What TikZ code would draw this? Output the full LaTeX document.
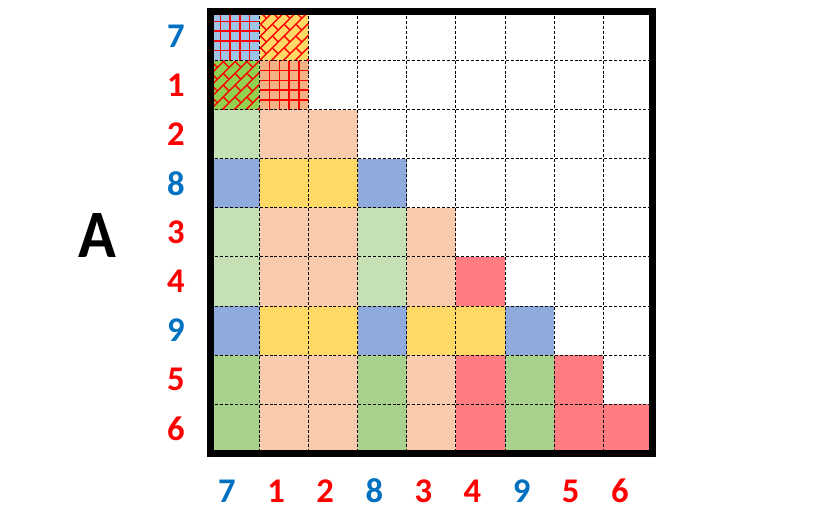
\documentclass[tikz,border=0pt]{standalone}
\usepackage{fontspec}
\setmainfont{Carlito}
\usetikzlibrary{positioning}
\usepackage{xcolor}

\definecolor{lblblue}{HTML}{0070C0}
\definecolor{lblred}{HTML}{FF0000}
\definecolor{cblue}{HTML}{8FAADC}
\definecolor{cyellow}{HTML}{FFD966}
\definecolor{peach}{HTML}{F8CBAD}
\definecolor{lgreen}{HTML}{C5E0B4}
\definecolor{cgreen}{HTML}{A9D18E}
\definecolor{cred}{HTML}{FF7C80}
\definecolor{pblue}{HTML}{9DC3E6}
\definecolor{psalmon}{HTML}{F4B183}
\definecolor{pgreen}{HTML}{92D050}
\definecolor{pyellow}{HTML}{FFD966}

\tikzset{
  lbl/.style={font=\fontsize{19.7}{24}\selectfont\bfseries, inner sep=0pt},
  gridline/.style={line width=0.6pt, dash pattern=on 1.7pt off 1.1pt},
  hatchline/.style={red, line width=0.8pt}
}

% grid pattern in cell (#1,#2) on colour #3
\newcommand{\gridcell}[3]{%
  \begin{scope}
    \clip (#1,#2) rectangle ++(1,1);
    \fill[#3] (#1,#2) rectangle ++(1,1);
    \foreach \t in {0.2,0.4,0.6,0.8} {
      \draw[hatchline] (#1+\t,#2) -- ++(0,1);
      \draw[hatchline] (#1,#2+\t) -- ++(1,0);
    }
  \end{scope}}

% diagonal brick pattern in cell (#1,#2) on colour #3
\newcommand{\brickcell}[3]{%
  \begin{scope}
    \clip (#1,#2) rectangle ++(1,1);
    \fill[#3] (#1,#2) rectangle ++(1,1);
    \begin{scope}[shift={(#1+0.5,#2+0.5)}, rotate=45]
      \foreach \k in {-5,...,5} {
        \draw[hatchline] (-1,\k*0.17) -- (1,\k*0.17);
        \foreach \j in {-4,...,4}
          \draw[hatchline] ({(2*\j+mod(\k+10,2))*0.17},\k*0.17) -- ++(0,0.17);
      }
    \end{scope}
  \end{scope}}

\begin{document}
\begin{tikzpicture}[x=0.02cm, y=-0.02cm]
    \useasboundingbox (0,0) rectangle (830,510);

    % The matrix cells
    \begin{scope}[shift={(210.5,11.5)}, x=0.982cm, y=-0.982cm]
        % Patterned cells (top left)
        \gridcell{0}{0}{pblue}
        \brickcell{1}{0}{pyellow}
        \brickcell{0}{1}{pgreen}
        \gridcell{1}{1}{psalmon}

        % Filled cells, row by row
        \foreach \cells [count=\r from 2] in {
            {lgreen,peach,peach},
            {cblue,cyellow,cyellow,cblue},
            {lgreen,peach,peach,lgreen,peach},
            {lgreen,peach,peach,lgreen,peach,cred},
            {cblue,cyellow,cyellow,cblue,cyellow,cyellow,cblue},
            {cgreen,peach,peach,cgreen,peach,cred,cgreen,cred},
            {cgreen,peach,peach,cgreen,peach,cred,cgreen,cred,cred}}
        {
            \foreach \col [count=\c from 0] in \cells
                \fill[\col] (\c,\r) rectangle ++(1,1);
        }

        % Dashed cell lines
        \foreach \i in {1,...,8} {
            \draw[gridline] (\i,0) -- (\i,9);
            \draw[gridline] (0,\i) -- (9,\i);
        }

        % Outer frame
        \draw[line width=4pt] (0,0) rectangle (9,9);
    \end{scope}

    % Row and column labels
    \foreach \lab/\col [count=\i from 0] in {7/lblblue,1/lblred,2/lblred,8/lblblue,3/lblred,4/lblred,9/lblblue,5/lblred,6/lblred} {
        \node[lbl, text=\col] (row\i) at (176,36+49.1*\i) {\lab};
        \node[lbl, text=\col] (col\i) at (227+49.1*\i,491) {\lab};
    }

    % Matrix name
    \node[font=\fontsize{38.6}{46}\selectfont\bfseries, inner sep=0pt] (matA) at (97,235.5) {\scalebox{0.92}[1]{A}};
\end{tikzpicture}
\end{document}
